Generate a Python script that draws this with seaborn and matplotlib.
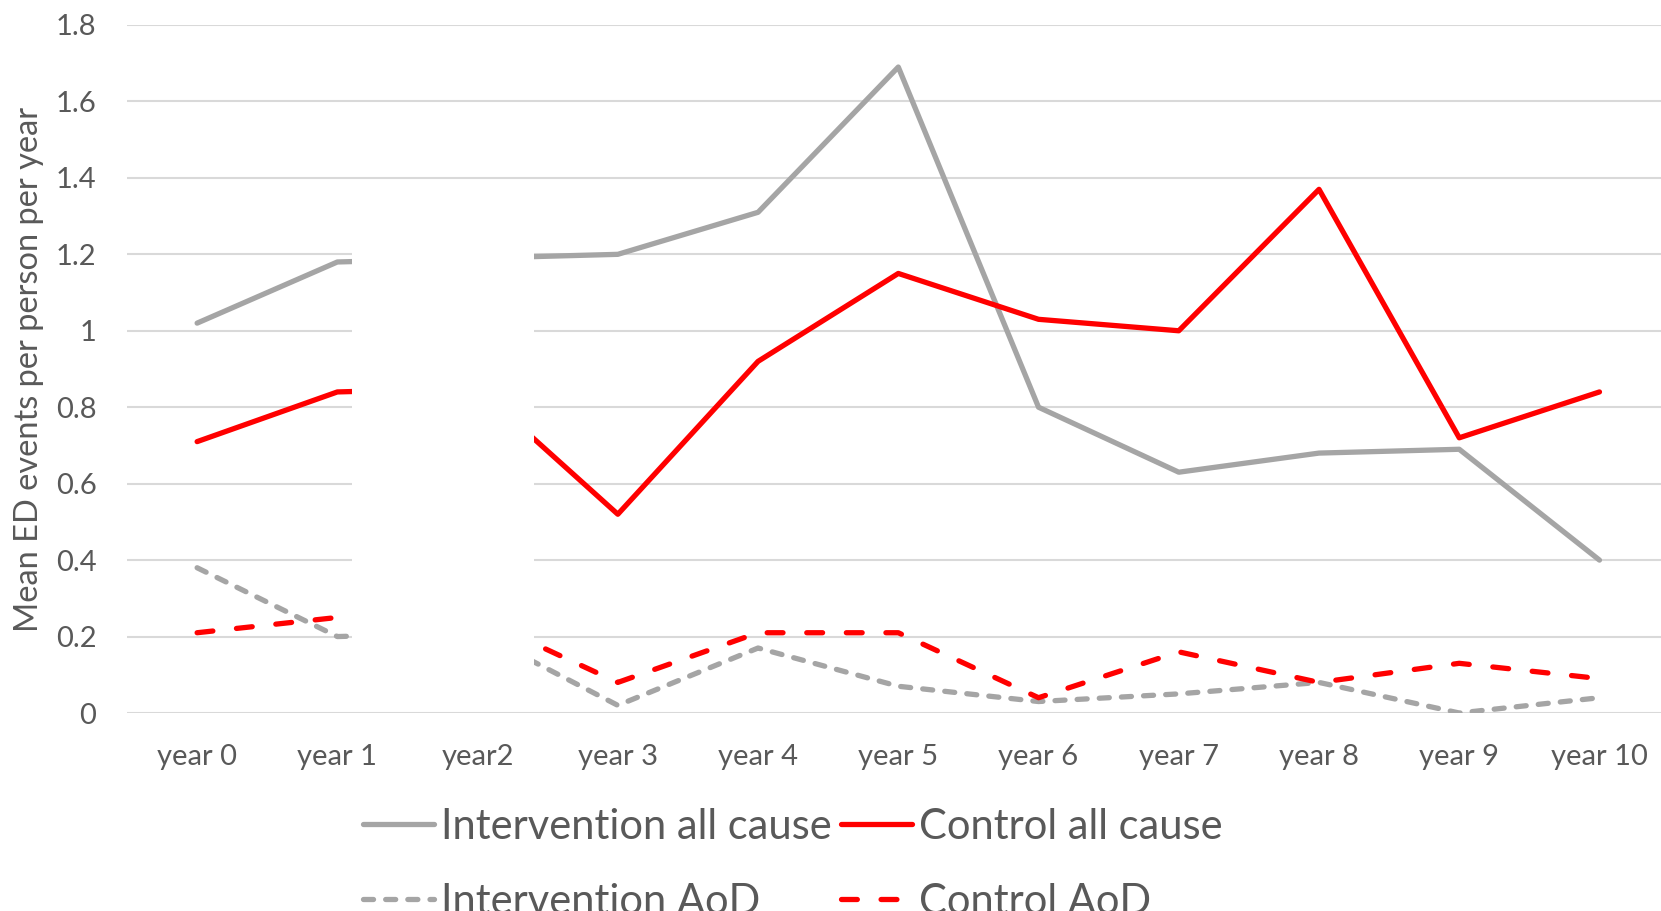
import matplotlib
matplotlib.use("Agg")
import matplotlib.pyplot as plt
from matplotlib.patches import Rectangle
import pandas as pd
import seaborn as sns

# Mean ED events per person per year, by study year
years = ["year 0", "year 1", "year2", "year 3", "year 4", "year 5",
         "year 6", "year 7", "year 8", "year 9", "year 10"]
intervention_all = [1.02, 1.18, 1.19, 1.20, 1.31, 1.69, 0.80, 0.63, 0.68, 0.69, 0.40]
control_all = [0.71, 0.84, 0.85, 0.52, 0.92, 1.15, 1.03, 1.00, 1.37, 0.72, 0.84]
intervention_aod = [0.38, 0.20, 0.21, 0.02, 0.17, 0.07, 0.03, 0.05, 0.08, 0.00, 0.04]
control_aod = [0.21, 0.25, 0.25, 0.08, 0.21, 0.21, 0.04, 0.16, 0.08, 0.13, 0.09]
series_names = ["Intervention all cause", "Control all cause",
                "Intervention AoD", "Control AoD"]
y_ticks = [0, 0.2, 0.4, 0.6, 0.8, 1, 1.2, 1.4, 1.6, 1.8]
y_tick_labels = ["0", "0.2", "0.4", "0.6", "0.8", "1", "1.2", "1.4", "1.6", "1.8"]

GRAY = "#A5A5A5"
RED = "#FF0000"
TEXT = "#595959"
GRID = "#D9D9D9"

frames = []
for name, vals in zip(series_names,
                      [intervention_all, control_all, intervention_aod, control_aod]):
    frames.append(pd.DataFrame({"year": years, "value": vals, "series": name}))
df = pd.concat(frames, ignore_index=True)

sns.set_theme(style="white")
plt.rcParams["font.family"] = ["Lato", "DejaVu Sans"]

W, H = 1661, 911
fig = plt.figure(figsize=(W / 100, H / 100), dpi=100)
ax = fig.add_axes([127 / W, (H - 713) / H, (1669.6 - 127) / W, 688 / H])

palette = {series_names[0]: GRAY, series_names[1]: RED,
           series_names[2]: GRAY, series_names[3]: RED}
dashes = {series_names[0]: "", series_names[1]: "",
          series_names[2]: (1.9, 2.3), series_names[3]: (3.0, 4.5)}

sns.lineplot(data=df, x="year", y="value", hue="series", style="series",
             hue_order=series_names, style_order=series_names,
             palette=palette, dashes=dashes, sort=False, linewidth=3.8,
             legend=False, ax=ax)

lines = ax.get_lines()[:4]
for line in lines:
    line.set_solid_capstyle("round")
    line.set_dash_capstyle("round")
    line.set_solid_joinstyle("round")
    line.set_dash_joinstyle("round")
    line.set_zorder(3)

ax.set_xlim(-0.5, 10.5)
ax.set_ylim(0, 1.8)
ax.set_yticks(y_ticks)
ax.set_yticklabels(y_tick_labels)
ax.grid(axis="y", color=GRID, linewidth=1.5)
ax.grid(axis="x", visible=False)
ax.set_axisbelow(True)
for sp in ax.spines.values():
    sp.set_visible(False)
ax.tick_params(axis="both", length=0, colors=TEXT, labelsize=21)
ax.tick_params(axis="y", pad=22)
ax.tick_params(axis="x", pad=22)
ax.set_xlabel("")
ax.set_ylabel("Mean ED events per person per year", color=TEXT, fontsize=23.4)
ax.yaxis.set_label_coords(-0.054, 0.5)

# blank panel across the year2 column
fig.patches.append(Rectangle((352 / W, (H - 700) / H), 182 / W, 460 / H,
                             transform=fig.transFigure, facecolor="white",
                             edgecolor="none", zorder=5))

# two rows: all-cause on top, AoD below
order = [0, 2, 1, 3]
fig.legend([lines[i] for i in order], [series_names[i] for i in order],
           ncol=2, loc="upper left",
           bbox_to_anchor=(363 / W, (H - 808) / H), frameon=False,
           fontsize=30, labelcolor=TEXT, borderpad=0, borderaxespad=0,
           handlelength=1.7, handletextpad=0.17, columnspacing=0.22,
           labelspacing=0.88)

fig.savefig("out.png", dpi=100)
